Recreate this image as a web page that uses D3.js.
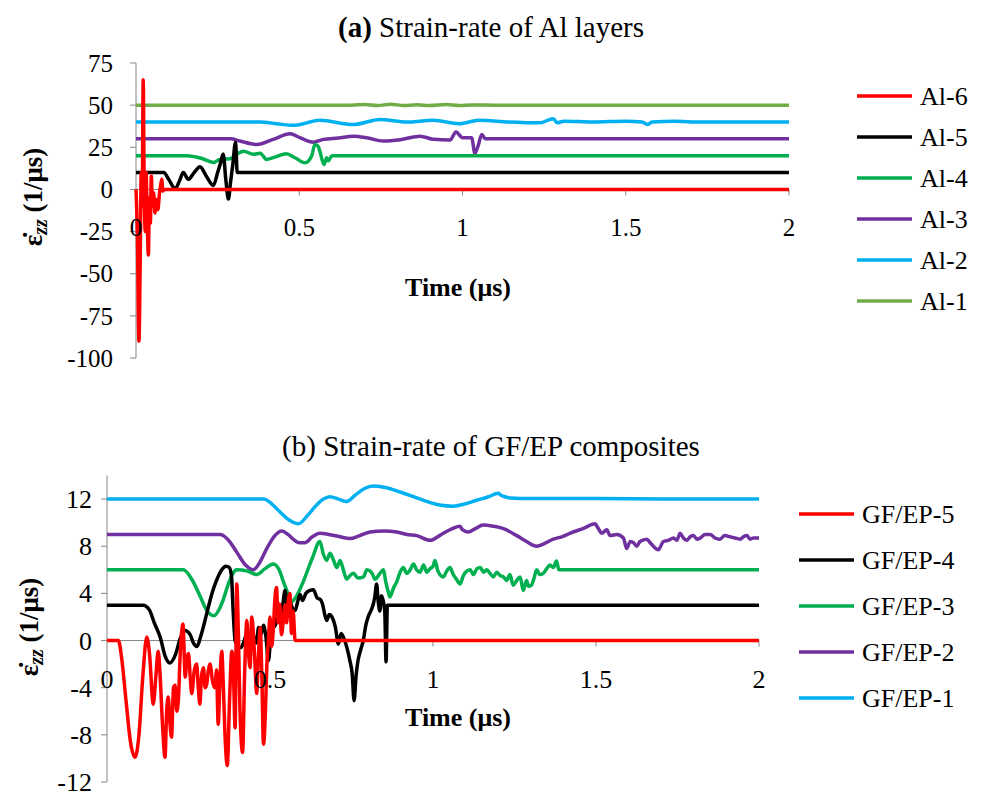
<!DOCTYPE html>
<html>
<head>
<meta charset="utf-8">
<script src="https://cdn.jsdelivr.net/npm/d3@7"></script>
<style>
  body { margin: 0; background: #ffffff; }
  svg { display: block; }
</style>
</head>
<body>
<div id="chart"></div>
<script>
// series values, [time (us), strain-rate]
const al6 = [[0,0],[0.004,-25],[0.009,-90],[0.013,-40],[0.016,10],[0.019,-10],[0.022,65],[0.025,5],[0.028,-25],[0.031,10],[0.034,-15],[0.038,-39],[0.041,-5],[0.044,-20],[0.047,8],[0.05,-10],[0.054,-2],[0.058,-14],[0.062,-6],[0.067,-12],[0.072,-2],[0.076,3],[0.079,6],[0.082,-1],[0.088,0],[2,0]];
const al5 = [[0,10],[0.085,10],[0.1,6],[0.12,0.5],[0.133,5],[0.145,10],[0.16,6],[0.178,10],[0.196,13.5],[0.215,8],[0.237,2.4],[0.25,10],[0.258,15],[0.267,21],[0.275,6],[0.283,-5.7],[0.29,5],[0.296,14],[0.305,28],[0.31,10],[2,10]];
const al4 = [[0,20],[0.155,20],[0.2,18.5],[0.237,16],[0.257,17.8],[0.288,18.2],[0.31,21],[0.329,22.7],[0.36,20.8],[0.38,21.5],[0.4,17.8],[0.43,19.5],[0.46,21.2],[0.487,18.8],[0.518,15.8],[0.538,19.8],[0.548,26.7],[0.558,25.5],[0.563,22.7],[0.576,14.8],[0.584,18.8],[0.589,17],[0.6,20],[2,20]];
const al3 = [[0,30],[0.29,30],[0.318,28.7],[0.37,26.7],[0.42,29.7],[0.472,33],[0.502,30.7],[0.543,28],[0.574,29.7],[0.62,30.5],[0.666,31.6],[0.71,30.5],[0.757,28.7],[0.81,29.5],[0.87,31.6],[0.911,29.7],[0.962,29.3],[0.98,34],[1.0,30.7],[1.028,30.7],[1.038,21.4],[1.048,26],[1.059,32.6],[1.07,30],[2,30]];
const al2 = [[0,40],[0.38,40],[0.43,39],[0.482,38],[0.563,41],[0.666,38.5],[0.747,41.5],[0.83,40],[0.911,41],[0.99,39],[1.05,41],[1.14,40],[1.237,39.5],[1.278,42],[1.29,39.5],[1.31,40.5],[1.4,40],[1.5,40.5],[1.55,40],[1.568,38.5],[1.58,40],[1.65,40.5],[1.7,40],[2,40]];
const al1 = [[0,50],[0.66,50],[0.7,50.4],[0.74,49.8],[0.78,50.5],[0.82,49.8],[0.86,50.2],[0.9,49.8],[0.95,50.4],[0.99,49.8],[1.03,50.1],[1.1,50],[2,50]];

const gf5 = [[0,0],[0.035,0],[0.045,-1.5],[0.058,-5],[0.072,-8.6],[0.086,-9.9],[0.098,-8],[0.11,-3],[0.122,0.3],[0.13,-1],[0.142,-5.4],[0.15,-3],[0.157,-0.9],[0.163,-3],[0.17,-7],[0.178,-9.9],[0.183,-6],[0.188,-4.8],[0.193,-7],[0.198,-8.2],[0.204,-4],[0.209,-3.8],[0.214,-6],[0.219,-5],[0.224,-1.5],[0.229,0.7],[0.233,1.4],[0.24,-3.1],[0.245,-1.5],[0.25,-1.1],[0.255,-3],[0.26,-4.5],[0.268,-2.5],[0.275,-2],[0.28,-4],[0.285,-5.4],[0.29,-3],[0.296,-2.3],[0.301,-4],[0.306,-3.7],[0.311,-2.5],[0.316,-2],[0.324,-3.5],[0.331,-4],[0.336,-2.5],[0.341,-7.1],[0.347,-3],[0.352,-0.9],[0.357,-4],[0.362,-8],[0.369,-10.6],[0.376,-5],[0.383,-0.9],[0.388,-3],[0.393,-7.4],[0.398,4.8],[0.403,0.6],[0.408,-6],[0.416,-9.5],[0.422,-3],[0.429,1.7],[0.434,-1],[0.439,-2.3],[0.444,2],[0.449,0.6],[0.454,-2],[0.459,-4.5],[0.465,-1],[0.47,1.1],[0.475,-3],[0.48,-8.8],[0.486,-6],[0.49,-2.3],[0.495,0],[0.5,2],[0.505,-0.5],[0.51,0.9],[0.515,3.5],[0.52,4.5],[0.525,1.5],[0.53,3.1],[0.535,0.5],[0.541,1.7],[0.546,3],[0.551,1.5],[0.556,3.4],[0.561,4],[0.566,0.6],[0.571,2.5],[0.577,0],[2,0]];
const gf4 = [[0,3],[0.111,3],[0.13,2.6],[0.145,1.5],[0.163,0.3],[0.178,-1.3],[0.193,-1.9],[0.21,-1.2],[0.225,0.2],[0.239,0.85],[0.255,0.5],[0.265,-0.2],[0.275,-0.5],[0.29,0.6],[0.306,2.3],[0.322,4],[0.336,5.1],[0.352,6],[0.365,6.3],[0.375,6.2],[0.382,5.4],[0.387,2.5],[0.393,0],[0.4,-0.4],[0.41,-0.6],[0.42,-0.1],[0.43,0.7],[0.437,-0.2],[0.444,-0.7],[0.452,0.3],[0.458,-0.2],[0.465,1.1],[0.472,0.5],[0.48,1.3],[0.488,0.2],[0.495,-1.7],[0.5,-0.5],[0.505,1.4],[0.515,1.2],[0.525,2.3],[0.533,2],[0.54,3.2],[0.546,4.25],[0.553,3],[0.561,3.3],[0.568,2.8],[0.577,2.55],[0.585,3.3],[0.592,3.9],[0.6,3.4],[0.61,4],[0.623,4.25],[0.633,4.3],[0.645,3.6],[0.654,3.5],[0.662,3],[0.668,2.2],[0.674,1.7],[0.682,2.2],[0.69,2],[0.7,1.2],[0.71,-0.3],[0.718,0.6],[0.725,0.3],[0.735,-0.5],[0.745,-1.7],[0.752,-2.8],[0.758,-5.1],[0.764,-3],[0.77,-1.7],[0.778,-0.8],[0.786,0],[0.794,1.3],[0.801,2],[0.809,2.5],[0.817,3.1],[0.822,3.8],[0.827,4.8],[0.832,3.3],[0.837,2.5],[0.842,3.8],[0.847,3.4],[0.852,2.5],[0.856,-1.8],[0.86,3],[2,3]];
const gf3 = [[0,6],[0.234,6],[0.26,5.2],[0.285,3.8],[0.305,2.6],[0.328,2.1],[0.345,2.7],[0.357,3.5],[0.375,5],[0.398,6],[0.43,5.9],[0.459,5.6],[0.485,6.1],[0.51,6.5],[0.528,6],[0.541,5],[0.555,4],[0.566,3.3],[0.58,3.7],[0.602,5],[0.63,7],[0.653,8.4],[0.664,7.3],[0.674,6.8],[0.684,7.4],[0.695,6.8],[0.705,6.2],[0.715,6.8],[0.725,6],[0.735,5.2],[0.745,5.5],[0.756,5.7],[0.77,5.3],[0.787,5.4],[0.797,6],[0.807,5.9],[0.815,5.6],[0.822,5.2],[0.835,5.6],[0.848,6],[0.855,5],[0.862,4.2],[0.868,3.7],[0.878,4.4],[0.889,5],[0.899,5.8],[0.909,6.2],[0.919,5.7],[0.93,6],[0.94,6.5],[0.95,6],[0.96,5.8],[0.971,6.4],[0.981,5.8],[0.991,6.1],[1.0,6.3],[1.006,6.8],[1.015,5.9],[1.032,5.4],[1.042,5.9],[1.052,6.2],[1.062,5.6],[1.072,5.2],[1.083,4.8],[1.093,5.5],[1.104,5.9],[1.114,6],[1.124,5.6],[1.135,6.1],[1.145,6.2],[1.155,5.8],[1.165,6],[1.175,5.7],[1.185,5.4],[1.196,5.8],[1.206,5.5],[1.216,5.4],[1.226,5.1],[1.236,5.6],[1.246,4.7],[1.257,5.1],[1.267,5.4],[1.277,4.25],[1.287,5.1],[1.293,4.6],[1.302,4.7],[1.31,5.3],[1.318,6],[1.328,5.6],[1.338,5.7],[1.349,6.1],[1.359,6.4],[1.369,6.2],[1.379,6.75],[1.386,6],[2,6]];
const gf2 = [[0,9],[0.347,9],[0.37,8.6],[0.398,7.5],[0.425,6.4],[0.449,6],[0.468,6.6],[0.49,7.8],[0.515,8.9],[0.536,9.3],[0.555,9],[0.571,8.6],[0.59,8.3],[0.607,8.3],[0.63,8.8],[0.653,9.1],[0.68,9],[0.715,8.8],[0.745,8.65],[0.775,8.9],[0.807,9.2],[0.85,9.3],[0.889,9.2],[0.92,9],[0.95,8.9],[0.991,8.5],[1.02,8.9],[1.052,9.4],[1.083,9.7],[1.09,9.4],[1.108,9.2],[1.13,9.5],[1.154,9.8],[1.185,9.7],[1.216,9.5],[1.257,8.9],[1.287,8.4],[1.318,8],[1.34,8.2],[1.369,8.6],[1.395,8.8],[1.42,9.1],[1.46,9.5],[1.497,9.9],[1.507,9.5],[1.518,9.1],[1.533,9.4],[1.543,8.9],[1.564,9],[1.584,8.7],[1.594,7.8],[1.605,8.4],[1.615,8.3],[1.625,8],[1.635,8.4],[1.656,8.6],[1.666,8.3],[1.676,8],[1.691,7.7],[1.707,8.4],[1.722,8.5],[1.738,8.7],[1.748,8.5],[1.758,9.1],[1.768,8.7],[1.778,8.5],[1.789,8.8],[1.799,8.9],[1.81,8.6],[1.82,8.7],[1.835,9],[1.85,9],[1.865,8.7],[1.88,8.6],[1.895,8.9],[1.911,8.8],[1.926,8.7],[1.942,8.6],[1.952,8.8],[1.963,8.9],[1.973,8.6],[1.983,8.7],[2,8.7]];
const gf1 = [[0,12],[0.48,12],[0.505,11.6],[0.531,10.9],[0.56,10.2],[0.587,9.9],[0.615,10.6],[0.643,11.5],[0.664,12],[0.684,12.2],[0.71,12],[0.735,11.8],[0.76,12.3],[0.79,12.9],[0.817,13.1],[0.85,13],[0.899,12.6],[0.94,12.2],[0.98,11.8],[1.02,11.5],[1.062,11.4],[1.1,11.6],[1.134,11.9],[1.17,12.2],[1.2,12.5],[1.21,12.3],[1.22,12.2],[1.236,12.1],[1.3,12.05],[1.5,12.05],[1.7,12],[2,12]];

const alNames = ['Al-6', 'Al-5', 'Al-4', 'Al-3', 'Al-2', 'Al-1'];
const gfNames = ['GF/EP-5', 'GF/EP-4', 'GF/EP-3', 'GF/EP-2', 'GF/EP-1'];
const timeTicks = [0, 0.5, 1, 1.5, 2];
const alTicks = [75, 50, 25, 0, -25, -50, -75, -100];
const gfTicks = [12, 8, 4, 0, -4, -8, -12];

const alColors = ['#ff0000', '#000000', '#00b050', '#7030a0', '#00b0f0', '#70ad47'];
const gfColors = ['#ff0000', '#000000', '#00b050', '#7030a0', '#00b0f0'];
const axisCol = '#868686';
const serif = "'Liberation Serif', 'Times New Roman', 'DejaVu Serif', serif";

const svg = d3.select('#chart').append('svg')
	.attr('width', 982)
	.attr('height', 796)
	.attr('font-family', serif);

function drawPanel(p) {
	const x = d3.scaleLinear().domain([0, 2]).range([p.left, p.right]);
	const y = d3.scaleLinear().domain(p.yDomain).range([p.bottom, p.top]);
	const g = svg.append('g');

	// y axis with ticks pointing left
	g.append('line')
		.attr('x1', p.left).attr('x2', p.left)
		.attr('y1', y(p.yDomain[0])).attr('y2', y(p.yDomain[1]))
		.attr('stroke', axisCol);
	g.selectAll('.ytick').data(p.yTicks).enter().append('line')
		.attr('x1', p.left - 6).attr('x2', p.left)
		.attr('y1', d => y(d)).attr('y2', d => y(d))
		.attr('stroke', axisCol);
	g.selectAll('.ylab').data(p.yTicks).enter().append('text')
		.attr('x', p.yLabX)
		.attr('y', d => y(d))
		.attr('dy', '0.35em')
		.attr('text-anchor', 'end')
		.attr('font-family', serif)
		.attr('font-size', p.tickSize + 'px')
		.text(d => d);

	// x axis sits on zero
	g.append('line')
		.attr('x1', x(0)).attr('x2', x(2))
		.attr('y1', y(0)).attr('y2', y(0))
		.attr('stroke', axisCol);
	g.selectAll('.xtick').data(timeTicks.slice(1)).enter().append('line')
		.attr('x1', d => x(d)).attr('x2', d => x(d))
		.attr('y1', y(0)).attr('y2', y(0) + 6)
		.attr('stroke', axisCol);

	// smoothed lines, last legend entry drawn first
	const line = d3.line().curve(d3.curveMonotoneX).x(d => x(d[0])).y(d => y(d[1]));
	const order = p.series.map((s, i) => i).reverse();
	order.forEach(i => {
		g.append('path')
			.datum(p.series[i])
			.attr('d', line)
			.attr('fill', 'none')
			.attr('stroke', p.colors[i])
			.attr('stroke-width', 3.5)
			.attr('stroke-linejoin', 'round');
	});

	g.selectAll('.xlab').data(timeTicks).enter().append('text')
		.attr('x', d => x(d))
		.attr('y', y(0) + p.xLabDy)
		.attr('dy', '0.35em')
		.attr('text-anchor', 'middle')
		.attr('font-family', serif)
		.attr('font-size', p.tickSize + 'px')
		.text(d => d);

	// titles
	const t = g.append('text')
		.attr('x', 491).attr('y', p.titleY)
		.attr('text-anchor', 'middle')
		.attr('font-size', '29px');
	t.append('tspan').attr('font-weight', p.boldTag ? 'bold' : 'normal').text(p.tag);
	t.append('tspan').text(' ' + p.title);

	g.append('text')
		.attr('x', 458).attr('y', p.xTitleY)
		.attr('text-anchor', 'middle')
		.attr('font-size', '26px')
		.attr('font-weight', 'bold')
		.text('Time (μs)');

	const yt = g.append('text')
		.attr('transform', `translate(${p.yTitleX},${p.yTitleY}) rotate(-90)`)
		.attr('text-anchor', 'middle')
		.attr('font-size', '27px')
		.attr('font-weight', 'bold');
	yt.append('tspan').text('ε̇');
	yt.append('tspan').attr('font-style', 'italic').attr('font-size', '20px').attr('dy', 5).text('zz');
	yt.append('tspan').attr('dy', -5).text(' (1/μs)');

	// legend
	const leg = g.selectAll('.leg').data(p.names).enter().append('g')
		.attr('transform', (d, i) => `translate(${p.legX},${p.legY + i * p.legStep})`);
	leg.append('line')
		.attr('x1', 0).attr('x2', 55)
		.attr('stroke', (d, i) => p.colors[i])
		.attr('stroke-width', 3.5);
	leg.append('text')
		.attr('x', 63)
		.attr('dy', '0.35em')
		.attr('font-size', '26px')
		.text(d => d);
}

drawPanel({
	left: 136, right: 789, top: 63, bottom: 358,
	yDomain: [-100, 75], yTicks: alTicks, yLabX: 113, xLabDy: 38, tickSize: 25,
	series: [al6, al5, al4, al3, al2, al1], colors: alColors, names: alNames,
	tag: '(a)', boldTag: true, title: 'Strain-rate of Al layers', titleY: 37,
	xTitleY: 296, yTitleX: 42, yTitleY: 197,
	legX: 857, legY: 96, legStep: 41
});

drawPanel({
	left: 107, right: 759, top: 475.5, bottom: 782,
	yDomain: [-12, 14], yTicks: gfTicks, yLabX: 92, xLabDy: 38, tickSize: 26,
	series: [gf5, gf4, gf3, gf2, gf1], colors: gfColors, names: gfNames,
	tag: '(b)', boldTag: false, title: 'Strain-rate of GF/EP composites', titleY: 456,
	xTitleY: 726, yTitleX: 38, yTitleY: 627,
	legX: 799, legY: 514, legStep: 46
});
</script>
</body>
</html>
